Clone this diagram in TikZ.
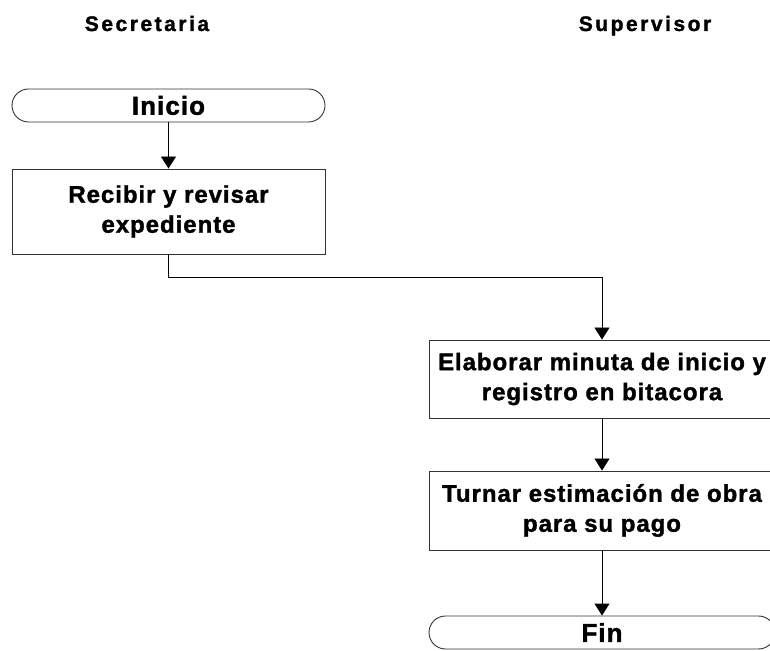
\documentclass[tikz,border=0pt]{standalone}
\usepackage{fontspec}
\setmainfont{Liberation Sans}
\newfontfamily\headfont{Liberation Sans Bold}[LetterSpace=12, FakeBold=1.5]
\newfontfamily\boxfont{Liberation Sans Bold}[LetterSpace=4, FakeBold=1.5]
\usepackage{tikz}
\usetikzlibrary{arrows.meta}

\tikzset{
  procbox/.style={draw=black!80, line width=0.9pt, rectangle, inner sep=0pt,
    align=center, font=\boxfont\fontsize{24}{30}\selectfont},
  termbox/.style={procbox, rounded corners=16.5pt,
    font=\boxfont\fontsize{26}{30}\selectfont},
  flow/.style={line width=0.9pt, -{Triangle[width=15pt,length=12pt]}}
}

\begin{document}
\begin{tikzpicture}[x=1pt,y=1pt]
\useasboundingbox (0,0) rectangle (770,650);

% lane headers
\begin{scope}[anchor=base, inner sep=0pt, outer sep=0pt,
  font=\headfont\fontsize{21}{24}\selectfont]
\node (hsec) at (147,619) {Secretaria};
\node (hsup) at (645,619) {Supervisor};
\end{scope}

% Secretaria
\node [termbox, minimum width=313, minimum height=33] (inicio)
  at (168.5,544.5) {Inicio};
\node [procbox, minimum width=313, minimum height=85] (recibir)
  at (168.5,438.5) {Recibir y revisar\\expediente};

% Supervisor
\node [procbox, minimum width=346, minimum height=78] (elaborar)
  at (602,271) {Elaborar minuta de inicio y\\registro en bitacora};
\node [procbox, minimum width=346, minimum height=79] (turnar)
  at (602,139.5) {Turnar estimaci\'on de obra\\para su pago};
\node [termbox, minimum width=346, minimum height=33] (fin)
  at (602,17.5) {Fin};

% connectors
\draw [flow] (inicio) -- (recibir);
\draw [flow] (recibir.south) -- ++(0,-23) -| (elaborar.north);
\draw [flow] (elaborar) -- (turnar);
\draw [flow] (turnar) -- (fin);

\end{tikzpicture}
\end{document}
